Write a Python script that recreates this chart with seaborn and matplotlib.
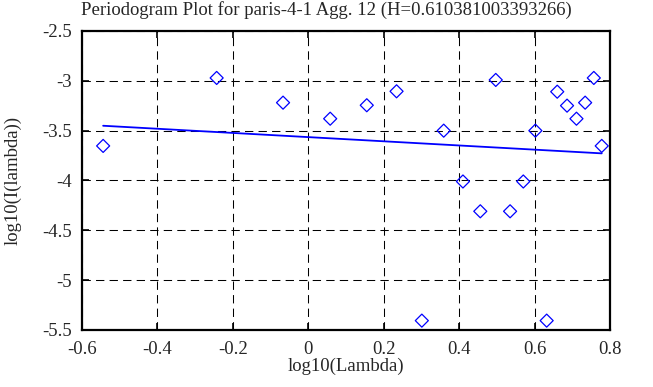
import numpy as np
import pandas as pd
import seaborn as sns
import matplotlib
matplotlib.use("Agg")
import matplotlib.pyplot as plt
from matplotlib.ticker import FuncFormatter

# ── data ────────────────────────────────────────────────────────────────────
log_lambda = [-0.544, -0.243, -0.067, 0.058, 0.155, 0.234, 0.301, 0.359, 0.410,
              0.456, 0.497, 0.535, 0.570, 0.602, 0.632, 0.660, 0.686, 0.711,
              0.734, 0.757, 0.778]
log_power = [-3.653, -2.971, -3.219, -3.380, -3.245, -3.105, -5.406, -3.500,
             -4.010, -4.309, -2.991, -4.309, -4.010, -3.500, -5.406, -3.109,
             -3.249, -3.380, -3.219, -2.971, -3.653]
x_ticks = [-0.6, -0.4, -0.2, 0, 0.2, 0.4, 0.6, 0.8]
y_ticks = [-5.5, -5, -4.5, -4, -3.5, -3, -2.5]
title = "Periodogram Plot for paris-4-1 Agg. 12 (H=0.610381003393266)"

df = pd.DataFrame({"x": log_lambda, "y": log_power})

sns.set_style("ticks")
plt.rcParams["font.family"] = ["Liberation Serif", "DejaVu Serif"]
fs = 13.5

fig = plt.figure(figsize=(6.53, 3.87), dpi=100)
ax = fig.add_axes([0.1256, 0.1473, 0.8086, 0.7726])

blue = "#0000ff"
# least-squares fit line, then the periodogram points
sns.regplot(data=df, x="x", y="y", scatter=False, ci=None, truncate=True,
            color=blue, line_kws={"lw": 1.3}, ax=ax)
sns.scatterplot(data=df, x="x", y="y", marker="D", s=44, fc="none",
                ec=blue, linewidth=0.9, zorder=5, ax=ax)

ax.set_xlim(-0.6, 0.8)
ax.set_ylim(-5.5, -2.5)
ax.set_xticks(x_ticks)
ax.set_yticks(y_ticks)
fmt = FuncFormatter(lambda v, _: f"{v:g}")
ax.xaxis.set_major_formatter(fmt)
ax.yaxis.set_major_formatter(fmt)

ax.grid(True, color="black", lw=0.75, ls=(0, (8, 5)))
ax.tick_params(direction="in", length=5, width=1.2, top=True, right=True,
               labelsize=fs, color="black")
ax.tick_params(axis="x", pad=8)
ax.tick_params(axis="y", pad=7)
for sp in ax.spines.values():
    sp.set_linewidth(1.6)
    sp.set_color("black")
    sp.set_visible(True)

ax.set_xlabel("log10(Lambda)", fontsize=fs)
ax.set_ylabel("log10(I(lambda))", fontsize=fs)
ax.xaxis.set_label_coords(0.5, -0.092)
ax.yaxis.set_label_coords(-0.114, 0.5)
fig.text(0.5, 1 - 10 / 387, title, fontsize=fs, ha="center", va="center")

fig.savefig("out.png", dpi=100)
